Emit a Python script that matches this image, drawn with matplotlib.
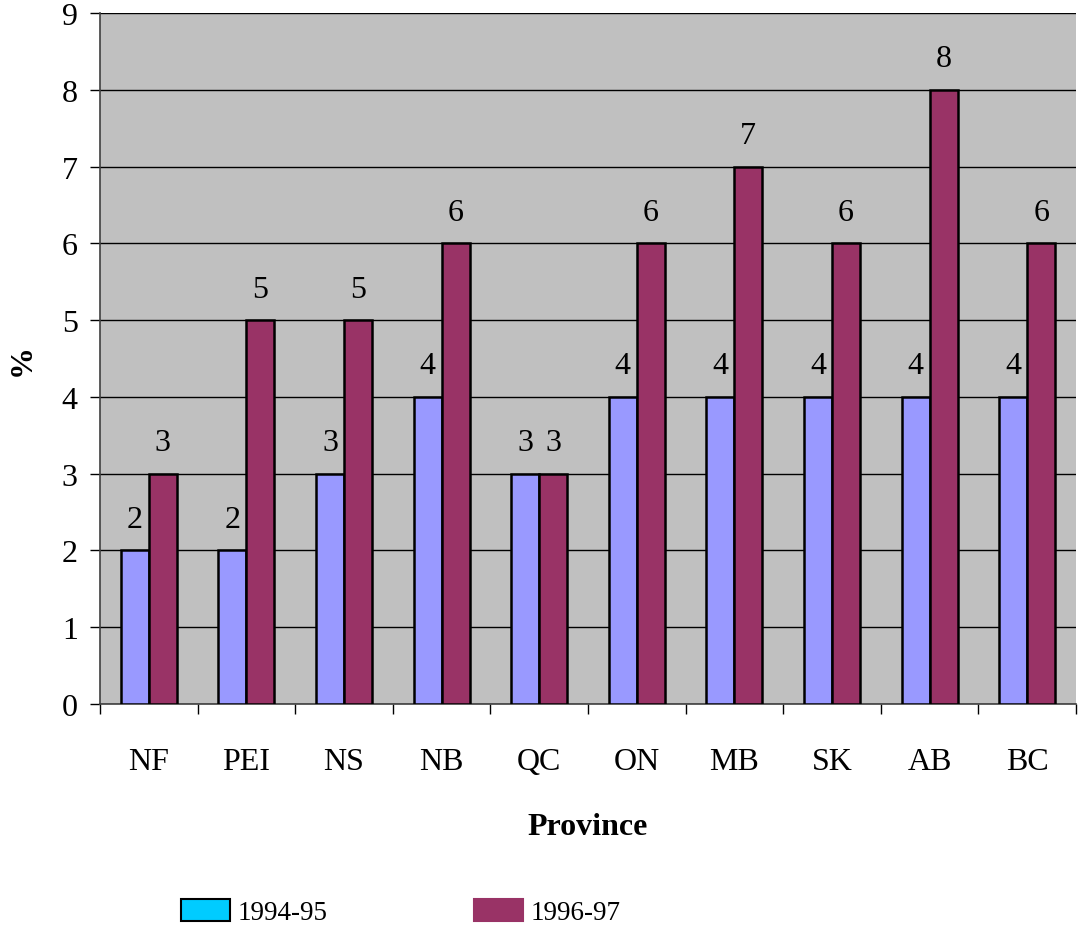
import matplotlib
matplotlib.use("Agg")
import matplotlib.pyplot as plt
from matplotlib.patches import Patch
from matplotlib.ticker import FixedLocator
import numpy as np

provinces = ["NF", "PEI", "NS", "NB", "QC", "ON", "MB", "SK", "AB", "BC"]
values_9495 = [2, 2, 3, 4, 3, 4, 4, 4, 4, 4]
values_9697 = [3, 5, 5, 6, 3, 6, 7, 6, 8, 6]
series_labels = ["1994-95", "1996-97"]
y_ticks = list(range(0, 10))

plt.rcParams["font.family"] = ["Liberation Serif", "DejaVu Serif"]

fig = plt.figure(figsize=(10.78, 9.29), dpi=100)
ax = fig.add_axes([100 / 1078, 1 - 705 / 929, 976 / 1078, (705 - 14) / 929])
ax.set_facecolor("#C0C0C0")

x = np.arange(len(provinces))
w = 0.286
bars_a = ax.bar(x - w / 2, values_9495, width=w, color="#9999FF",
                edgecolor="black", linewidth=1.8, zorder=3)
bars_b = ax.bar(x + w / 2, values_9697, width=w, color="#993366",
                edgecolor="black", linewidth=1.8, zorder=3)

for bars, vals in ((bars_a, values_9495), (bars_b, values_9697)):
    for b, v in zip(bars, vals):
        ax.annotate(str(v), (b.get_x() + b.get_width() / 2, v),
                    xytext=(0, 17), textcoords="offset points",
                    ha="center", va="baseline", fontsize=23)

ax.set_xlim(-0.5, len(provinces) - 0.5)
ax.set_ylim(0, 9)
ax.set_yticks(y_ticks)
ax.yaxis.grid(True, color="black", linewidth=1.0, zorder=1)
ax.set_axisbelow(True)

ax.set_xticks(x)
ax.set_xticklabels(provinces)
ax.xaxis.set_minor_locator(FixedLocator(np.arange(-0.5, len(provinces), 1.0)))
ax.tick_params(axis="x", which="major", length=0, pad=31, labelsize=23)
ax.tick_params(axis="x", which="minor", length=7, width=1.0, direction="out")
ax.tick_params(axis="y", length=7, width=1.0, direction="out", pad=9, labelsize=23)

for side in ("top", "right"):
    ax.spines[side].set_visible(False)
for side in ("left", "bottom"):
    ax.spines[side].set_color("#404040")
    ax.spines[side].set_linewidth(1.2)

ax.set_xlabel("Province", fontsize=23, fontweight="bold", labelpad=26)
ax.set_ylabel("%", fontsize=23, fontweight="bold", labelpad=18)

handles = [Patch(facecolor="#00CCFF", edgecolor="black", linewidth=1.5),
           Patch(facecolor="#993366", edgecolor="#993366", linewidth=1.5)]
fig.legend(handles, series_labels, loc="center", ncol=2,
           bbox_to_anchor=(401 / 1078, 1 - 913 / 929), frameon=False,
           fontsize=19.5, handlelength=1.8, handleheight=0.92,
           handletextpad=0.3, columnspacing=5.4)

fig.savefig("out.png", dpi=100)
